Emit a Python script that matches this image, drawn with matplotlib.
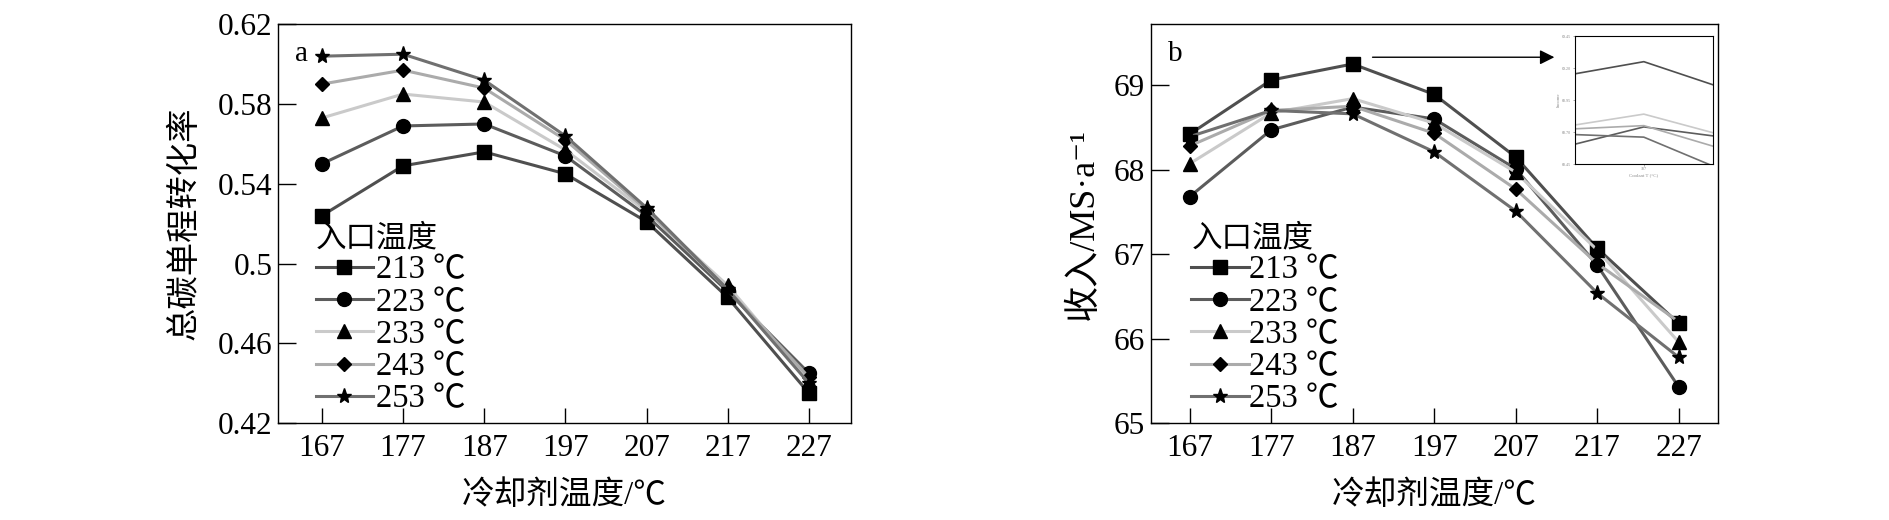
import matplotlib
matplotlib.use('Agg')
import matplotlib.pyplot as plt
from matplotlib.ticker import FixedLocator

plt.rcParams['font.family'] = ['Liberation Serif', 'Noto Sans CJK SC', 'DejaVu Sans']
plt.rcParams['axes.unicode_minus'] = False

# 冷却剂温度
coolant_t = [167, 177, 187, 197, 207, 217, 227]
inlet_labels = ['213 ℃', '223 ℃', '233 ℃', '243 ℃', '253 ℃']

# (a) 总碳单程转化率
conv_213 = [0.524, 0.549, 0.556, 0.545, 0.521, 0.483, 0.435]
conv_223 = [0.550, 0.569, 0.570, 0.554, 0.524, 0.486, 0.445]
conv_233 = [0.573, 0.585, 0.581, 0.557, 0.526, 0.489, 0.441]
conv_243 = [0.590, 0.597, 0.588, 0.562, 0.527, 0.487, 0.443]
conv_253 = [0.604, 0.605, 0.592, 0.564, 0.528, 0.487, 0.440]

# (b) 收入 MS/a
inc_213 = [68.42, 69.06, 69.25, 68.89, 68.15, 67.07, 66.18]
inc_223 = [67.68, 68.47, 68.74, 68.60, 68.01, 66.87, 65.43]
inc_233 = [68.07, 68.67, 68.84, 68.55, 67.97, 67.05, 65.96]
inc_243 = [68.28, 68.70, 68.75, 68.43, 67.77, 66.89, 66.20]
inc_253 = [68.39, 68.70, 68.66, 68.21, 67.51, 66.54, 65.78]

conv_series = [conv_213, conv_223, conv_233, conv_243, conv_253]
inc_series = [inc_213, inc_223, inc_233, inc_243, inc_253]

line_colors = ['#4f4f4f', '#5c5c5c', '#cacaca', '#ababab', '#707070']
markers = ['s', 'o', '^', 'D', '*']
msizes = [10, 10, 10, 7.5, 11]

fig = plt.figure(figsize=(18.9, 5.2), dpi=100)
ax_a = fig.add_axes([0.1471, 0.1865, 0.3032, 0.7668])
ax_b = fig.add_axes([0.6088, 0.1865, 0.3000, 0.7668])


def style_axes(ax):
    ax.tick_params(axis='both', which='both', direction='in', top=False, right=False,
                   labelsize=22.5, width=1)
    ax.tick_params(axis='y', length=13, pad=4)
    ax.tick_params(axis='x', length=11, pad=8)
    for s in ax.spines.values():
        s.set_linewidth(1)
    ax.xaxis.set_major_locator(FixedLocator(coolant_t))


def draw_lines(ax, series):
    handles = []
    for vals, lab, c, m, ms in zip(series, inlet_labels, line_colors, markers, msizes):
        h, = ax.plot(coolant_t, vals, color=c, lw=2.2, marker=m, ms=ms,
                     mfc='black', mec='black', label=lab)
        handles.append(h)
    return handles


# ---- (a) ----
ha = draw_lines(ax_a, conv_series)
style_axes(ax_a)
ax_a.set_xlim(161.6, 232.2)
ax_a.set_ylim(0.42, 0.62)
ax_a.set_yticks([0.42, 0.46, 0.5, 0.54, 0.58, 0.62])
ax_a.set_yticklabels(['0.42', '0.46', '0.5', '0.54', '0.58', '0.62'])
ax_a.set_xlabel('冷却剂温度/℃', fontsize=23.5)
ax_a.set_ylabel('总碳单程转化率', fontsize=24)
ax_a.xaxis.set_label_coords(0.5, -0.183)
ax_a.xaxis.label.set_va('center')
ax_a.yaxis.set_label_coords(-0.162, 0.5)
ax_a.yaxis.label.set_va('center')
ax_a.text(0.03, 0.925, 'a', transform=ax_a.transAxes, fontsize=21, ha='left', va='center')
leg_a = ax_a.legend(handles=ha, title='入口温度', loc='upper left',
                    bbox_to_anchor=(0.066, 0.498), frameon=False, fontsize=23.5,
                    title_fontsize=22, borderpad=0, borderaxespad=0, handlelength=1.75,
                    handletextpad=0.1, labelspacing=0.05, alignment='left')

# ---- (b) ----
hb = draw_lines(ax_b, inc_series)
style_axes(ax_b)
ax_b.set_xlim(162.2, 231.8)
ax_b.set_ylim(65, 69.72)
ax_b.set_yticks([65, 66, 67, 68, 69])
ax_b.set_xlabel('冷却剂温度/℃', fontsize=23.5)
ax_b.set_ylabel('收入/MS·a⁻¹', fontsize=26)
ax_b.xaxis.set_label_coords(0.5, -0.183)
ax_b.xaxis.label.set_va('center')
ax_b.yaxis.set_label_coords(-0.118, 0.5)
ax_b.yaxis.label.set_va('center')
ax_b.text(0.03, 0.925, 'b', transform=ax_b.transAxes, fontsize=21, ha='left', va='center')
leg_b = ax_b.legend(handles=hb, title='入口温度', loc='upper left',
                    bbox_to_anchor=(0.072, 0.498), frameon=False, fontsize=23.5,
                    title_fontsize=22, borderpad=0, borderaxespad=0, handlelength=1.75,
                    handletextpad=0.0, labelspacing=0.05, alignment='left')

# arrow to inset
ax_b.annotate('', xy=(212.1, 69.33), xytext=(189.1, 69.33),
              arrowprops=dict(arrowstyle='-|>', color='black', lw=1, mutation_scale=22))

# inset (zoom near 187)
ax_in = fig.add_axes([0.8333, 0.6846, 0.0729, 0.2460])
for vals, c in zip(inc_series, line_colors):
    ax_in.plot(coolant_t, vals, color=c, lw=1.2)
ax_in.set_xlim(182, 192)
ax_in.set_ylim(68.45, 69.45)
ax_in.set_xticks([187])
ax_in.set_yticks([68.45, 68.7, 68.95, 69.2, 69.45])
ax_in.tick_params(labelsize=3, length=1.5, width=0.5, colors='#888888', pad=1)
ax_in.set_xlabel('Coolant T (°C)', fontsize=3.5, color='#888888', labelpad=1)
ax_in.set_ylabel('Income', fontsize=3.5, color='#888888', labelpad=1)
for s in ax_in.spines.values():
    s.set_linewidth(0.8)

fig.savefig('out.png', dpi=100)
